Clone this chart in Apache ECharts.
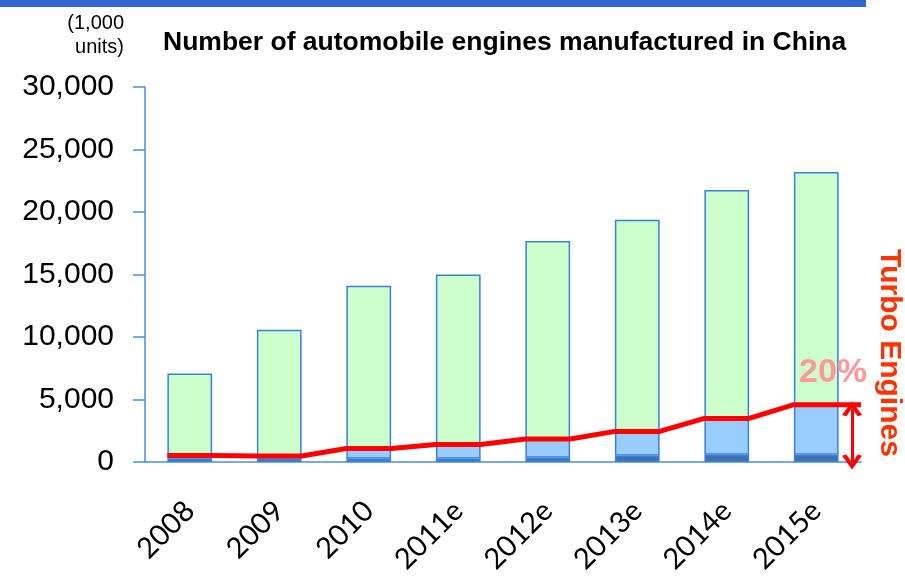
<!DOCTYPE html>
<html>
<head>
<meta charset="utf-8">
<title>Automobile engines in China</title>
<script src="https://cdn.jsdelivr.net/npm/echarts@6/dist/echarts.min.js"></script>
<style>
  html, body { margin: 0; padding: 0; background: #fff; }
  #chart { width: 905px; height: 581px; }
</style>
</head>
<body>
<div id="chart"></div>
<script>
// data (1,000 units)
const years = ['2008', '2009', '2010', '2011e', '2012e', '2013e', '2014e', '2015e']
const totalEngines = [7090, 10580, 14100, 15000, 17690, 19390, 21770, 23200]
const turboEngines = [520, 480, 1080, 1400, 1840, 2450, 3490, 4590]
const darkPart = [270, 270, 270, 270, 345, 505, 585, 585]
const yTicks = [0, 5000, 10000, 15000, 20000, 25000, 30000]

// stacked pieces: dark blue bottom, light blue up to the turbo line, green up to total
const lightPart = turboEngines.map((v, i) => v - darkPart[i])
const greenPart = totalEngines.map((v, i) => v - turboEngines[i])

// red line runs flat across each bar and slopes in the gaps
const turboLine = []
turboEngines.forEach((v, i) => {
  turboLine.push([i + 0.25, v])
  turboLine.push([i === turboEngines.length - 1 ? years.length : i + 0.75, v])
})

const borderBlue = '#3a80d9'
// open arrow head, pointing up
const chevron = 'path://M0,10 L5,0 L10,10 L7.8,11 L5,5 L2.2,11 Z'
const chart = echarts.init(document.getElementById('chart'))

const option = {
  animation: false,
  title: {
    text: 'Number of automobile engines manufactured in China',
    left: 158,
    top: 24,
    textStyle: {
      fontFamily: 'Liberation Sans',
      fontWeight: 'bold',
      fontSize: 26.5,
      color: '#000'
    }
  },
  grid: {
    left: 145,
    right: 44,
    top: 87,
    bottom: 119,
    containLabel: false
  },
  xAxis: [
    {
      type: 'category',
      data: years,
      axisLine: { lineStyle: { color: '#4a8fdc', width: 1.5 } },
      axisTick: { show: false },
      axisLabel: {
        rotate: 45,
        margin: 44,
        fontFamily: 'Lato',
        fontSize: 29,
        color: '#000'
      }
    },
    {
      // hidden value axis for the red turbo line
      type: 'value',
      min: 0,
      max: years.length,
      show: false
    }
  ],
  yAxis: {
    type: 'value',
    min: yTicks[0],
    max: yTicks[yTicks.length - 1],
    interval: yTicks[1] - yTicks[0],
    axisLine: { show: true, lineStyle: { color: '#4a8fdc', width: 1.5 } },
    axisTick: { show: true, length: 12, lineStyle: { color: '#4a8fdc', width: 1.5 } },
    splitLine: { show: false },
    axisLabel: {
      margin: 31,
      fontFamily: 'Liberation Sans',
      fontSize: 30,
      color: '#000',
      formatter: function (value) {
        return value.toLocaleString('en-US')
      }
    }
  },
  series: [
    {
      name: 'Turbo (core)',
      type: 'bar',
      stack: 'engines',
      barWidth: '50%',
      data: darkPart,
      itemStyle: { color: '#3f70aa', borderColor: borderBlue, borderWidth: 1.5 }
    },
    {
      name: 'Turbo',
      type: 'bar',
      stack: 'engines',
      data: lightPart,
      itemStyle: { color: '#99ccff', borderColor: borderBlue, borderWidth: 1.5 }
    },
    {
      name: 'Other',
      type: 'bar',
      stack: 'engines',
      data: greenPart,
      itemStyle: { color: '#ccffcc', borderColor: borderBlue, borderWidth: 1.5 }
    },
    {
      name: 'Turbo engines',
      type: 'line',
      xAxisIndex: 1,
      data: turboLine,
      symbol: 'none',
      lineStyle: { color: '#ff0000', width: 5 },
      z: 5,
      markLine: {
        silent: true,
        symbol: [chevron, chevron],
        symbolSize: [20, 15],
        label: { show: false },
        lineStyle: { color: '#ff0000', width: 3, type: 'solid' },
        data: [
          [
            { coord: [7.9, turboEngines[turboEngines.length - 1] - 330] },
            { coord: [7.9, 0] }
          ]
        ]
      }
    }
  ],
  graphic: [
    {
      // blue band on top
      type: 'rect',
      z: 100,
      shape: { x: 0, y: 0, width: 866, height: 7 },
      style: { fill: '#3366cc' }
    },
    {
      type: 'text',
      z: 100,
      x: 124,
      y: 11,
      style: {
        text: '(1,000\nunits)',
        textAlign: 'right',
        fontFamily: 'Liberation Sans',
        fontSize: 20,
        lineHeight: 24,
        fill: '#000'
      }
    },
    {
      type: 'text',
      z: 100,
      x: 833,
      y: 373,
      style: {
        text: '20%',
        textAlign: 'center',
        textVerticalAlign: 'middle',
        fontFamily: 'Liberation Sans',
        fontWeight: 'bold',
        fontSize: 34,
        fill: '#ff9999'
      }
    },
    {
      type: 'text',
      z: 100,
      x: 889,
      y: 353,
      rotation: -Math.PI / 2,
      style: {
        text: 'Turbo Engines',
        textAlign: 'center',
        textVerticalAlign: 'middle',
        fontFamily: 'Liberation Sans',
        fontWeight: 'bold',
        fontSize: 30,
        fill: '#ff3300'
      }
    }
  ]
}

chart.setOption(option)
window.addEventListener('resize', function () {
  chart.resize()
})
</script>
</body>
</html>
